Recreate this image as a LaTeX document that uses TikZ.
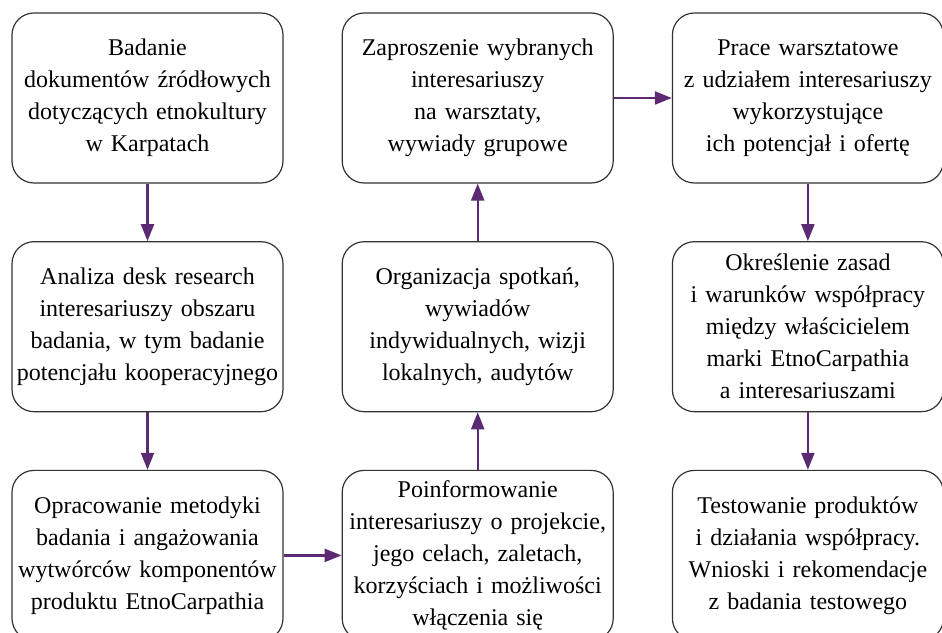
\documentclass[tikz,border=0pt]{standalone}
\usepackage{fontspec}
\setmainfont[WordSpace=0.85]{Liberation Serif}
\usetikzlibrary{positioning}
\usetikzlibrary{arrows.meta}
\definecolor{fiolet}{RGB}{91,42,114}
\tikzset{etap/.style={draw=black!80,line width=1.2pt,rounded corners=22pt,minimum width=271pt,minimum height=170pt,text width=265pt,align=center,inner sep=0pt,font=\fontsize{24}{32}\selectfont},
	strzalka/.style={fiolet,line width=2.3pt,-{Triangle[length=17pt,width=13pt]}}}

\begin{document}
\begin{tikzpicture}[node distance=57.5pt and 58pt]
	\useasboundingbox (0,0) rectangle (942pt,632pt);
	\node[etap] (A1) at (147.5pt,534pt) {Badanie\\dokumentów źródłowych\\dotyczących etnokultury\\w Karpatach};
	\node[etap,below=of A1] (A2) {Analiza desk research\\interesariuszy obszaru\\badania, w tym badanie\\potencjału kooperacyjnego};
	\node[etap,below=of A2] (A3) {Opracowanie metodyki\\badania i angażowania\\wytwórców komponentów\\produktu EtnoCarpathia};
	\node[etap,right=of A3] (B3) {Poinformowanie\\interesariuszy o projekcie,\\jego celach, zaletach,\\korzyściach i możliwości\\włączenia się};
	\node[etap,right=of A2] (B2) {Organizacja spotkań,\\wywiadów\\indywidualnych, wizji\\lokalnych, audytów};
	\node[etap,right=of A1] (B1) {Zaproszenie wybranych\\interesariuszy\\na warsztaty,\\wywiady grupowe};
	\node[etap,right=of B1] (C1) {Prace warsztatowe\\z udziałem interesariuszy\\wykorzystujące\\ich potencjał i ofertę};
	\node[etap,right=of B2] (C2) {Określenie zasad\\i warunków współpracy\\między właścicielem\\marki EtnoCarpathia\\a interesariuszami};
	\node[etap,right=of B3] (C3) {Testowanie produktów\\i działania współpracy.\\Wnioski i rekomendacje\\z badania testowego};
	% kolejnosc etapow
	\draw[strzalka] (A1) -- (A2); \draw[strzalka] (A2) -- (A3); \draw[strzalka] (A3) -- (B3);
	\draw[strzalka] (B3) -- (B2); \draw[strzalka] (B2) -- (B1); \draw[strzalka] (B1) -- (C1);
	\draw[strzalka] (C1) -- (C2); \draw[strzalka] (C2) -- (C3);
\end{tikzpicture}
\end{document}
